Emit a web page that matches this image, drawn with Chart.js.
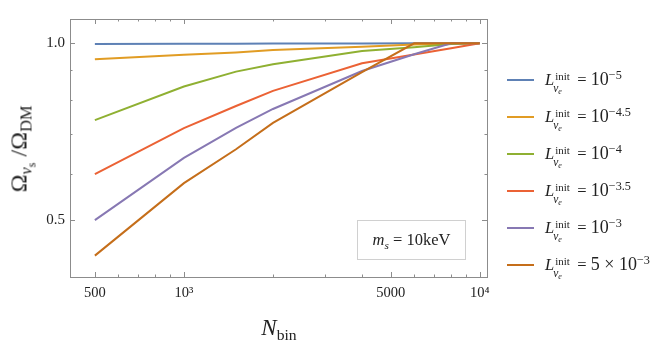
<!DOCTYPE html>
<html>
<head>
<meta charset="utf-8">
<script src="https://cdn.jsdelivr.net/npm/chart.js@4/dist/chart.umd.min.js"></script>
<style>
  html, body { margin: 0; padding: 0; background: #fff; }
  #wrap { position: relative; width: 664px; height: 349px; overflow: hidden; font-family: 'Liberation Serif', serif; color: #222; }
  canvas { position: absolute; left: 0; top: 0; }
  .sub { font-size: 0.68em; position: relative; top: 0.32em; }
  .sup { font-size: 0.68em; position: relative; top: -0.5em; }
  #ytitle { position: absolute; left: 19px; top: 149px; transform: translate(-50%, -50%) rotate(-90deg); font-size: 24px; white-space: nowrap; }
  #xtitle { position: absolute; left: 279px; top: 328px; transform: translate(-50%, -50%); font-size: 23px; white-space: nowrap; }
  #mbox { position: absolute; left: 357px; top: 220px; width: 109px; height: 40px; border: 1px solid #d0d0d0; box-sizing: border-box; display: flex; align-items: center; justify-content: center; font-size: 16.5px; white-space: nowrap; }
  .le { position: absolute; left: 507px; height: 0; }
  .sw { position: absolute; left: 0; top: -1px; width: 27px; height: 2px; }
  .lt { position: absolute; left: 38px; top: -11px; font-size: 16.5px; line-height: 20px; white-space: nowrap; }
  .lt .v { font-size: 18px; }
  .ss { display: inline-block; position: relative; width: 19px; height: 10px; }
  .ss .u { position: absolute; left: 1px; top: -9px; font-size: 11px; }
  .ss .d { position: absolute; left: -1px; top: 3px; font-size: 11.5px; font-style: italic; }
  .ss .d .e { font-size: 8px; position: relative; top: 2px; }
</style>
</head>
<body>
<div id="wrap">
  <canvas id="c" width="664" height="349"></canvas>
  <div id="ytitle">Ω<span class="sub"><i>ν</i><span class="sub" style="font-size:0.75em">s</span></span> /Ω<span class="sub">DM</span></div>
  <div id="xtitle"><i>N</i><span class="sub">bin</span></div>
  <div id="mbox"><span><i>m</i><span class="sub" style="font-style:italic">s</span> = 10keV</span></div>
  <div id="legend"></div>
</div>
<script>
// ---- data ----
const nBins = [500, 1000, 1500, 2000, 4000, 6000, 8000, 10000];
const omegaL5   = [0.997, 0.998, 0.998, 0.999, 0.999, 1.000, 1.000, 1.000];
const omegaL45  = [0.939, 0.956, 0.965, 0.974, 0.987, 0.995, 0.999, 1.000];
const omegaL4   = [0.740, 0.844, 0.895, 0.921, 0.970, 0.985, 0.997, 1.000];
const omegaL35  = [0.599, 0.717, 0.782, 0.830, 0.925, 0.957, 0.981, 1.000];
const omegaL3   = [0.500, 0.638, 0.718, 0.773, 0.897, 0.958, 1.000, 1.000];
const omegaL5e3 = [0.435, 0.578, 0.660, 0.732, 0.893, 1.000, 1.000, 1.000];
const seriesExp = ['−5', '−4.5', '−4', '−3.5', '−3', null];
const seriesLabels = ['L=1e-5', 'L=1e-4.5', 'L=1e-4', 'L=1e-3.5', 'L=1e-3', 'L=5e-3'];
const seriesColors = ['#5E81B5', '#E19C24', '#8FB032', '#EB6235', '#8778B3', '#C56E1A'];
const xTickValues = [500, 600, 700, 800, 900, 1000, 2000, 3000, 4000, 5000, 6000, 7000, 8000, 9000, 10000];
const xTickLabels = {500: '500', 1000: '10³', 5000: '5000', 10000: '10⁴'};
const yTickValues = [0.5, 0.6, 0.7, 0.8, 0.9, 1.0];
const yTickLabels = {0.5: '0.5', 1: '1.0'};

const allSeries = [omegaL5, omegaL45, omegaL4, omegaL35, omegaL3, omegaL5e3];

const datasets = allSeries.map((ys, i) => ({
  label: seriesLabels[i],
  data: nBins.map((x, j) => ({x: x, y: ys[j]})),
  borderColor: seriesColors[i],
  backgroundColor: seriesColors[i],
  borderWidth: 2,
  pointRadius: 0,
  tension: 0,
  fill: false,
  order: allSeries.length - i
}));

const frameTicks = {
  id: 'frameTicks',
  beforeDatasetsDraw(chart) {
    const {ctx, chartArea: a, scales} = chart;
    const xs = scales.x, ys = scales.y;
    ctx.save();
    ctx.strokeStyle = '#8c8c8c';
    ctx.lineWidth = 1;
    ctx.strokeRect(Math.round(a.left) + 0.5, Math.round(a.top) + 0.5, Math.round(a.right - a.left), Math.round(a.bottom - a.top));
    ctx.beginPath();
    xTickValues.forEach(v => {
      const px = Math.round(xs.getPixelForValue(v)) + 0.5;
      const len = xTickLabels[v] ? 5 : 2.5;
      ctx.moveTo(px, a.bottom); ctx.lineTo(px, a.bottom - len);
      ctx.moveTo(px, a.top); ctx.lineTo(px, a.top + len);
    });
    yTickValues.forEach(v => {
      const py = Math.round(ys.getPixelForValue(v)) + 0.5;
      const len = yTickLabels[v] ? 5 : 2.5;
      ctx.moveTo(a.left, py); ctx.lineTo(a.left + len, py);
      ctx.moveTo(a.right, py); ctx.lineTo(a.right - len, py);
    });
    ctx.stroke();
    ctx.restore();
  }
};

new Chart(document.getElementById('c'), {
  type: 'line',
  data: { datasets },
  options: {
    responsive: false,
    animation: false,
    devicePixelRatio: 1,
    layout: { padding: { left: 0, right: 177, top: 19, bottom: 0 } },
    plugins: { legend: { display: false }, tooltip: { enabled: false } },
    scales: {
      x: {
        type: 'logarithmic',
        min: 412, max: 10580,
        grid: { display: false, drawTicks: false },
        border: { display: false },
        afterBuildTicks: s => { s.ticks = xTickValues.map(v => ({value: v})); },
        afterFit: s => { s.height = 72; },
        ticks: {
          autoSkip: false, maxRotation: 0, minRotation: 0, padding: 7,
          color: '#222', font: { family: 'Liberation Serif', size: 14.5 },
          callback: v => xTickLabels[v] || ''
        }
      },
      y: {
        type: 'logarithmic',
        min: 0.4, max: 1.1,
        grid: { display: false, drawTicks: false },
        border: { display: false },
        afterBuildTicks: s => { s.ticks = yTickValues.map(v => ({value: v})); },
        afterFit: s => { s.width = 70; },
        ticks: {
          autoSkip: false, padding: 5,
          color: '#222', font: { family: 'Liberation Serif', size: 15 },
          callback: v => yTickLabels[Math.round(v * 10) / 10] || ''
        }
      }
    }
  },
  plugins: [frameTicks]
});

// HTML legend with math-style labels
const legendTops = [80, 117, 154, 191, 228, 265];
const leg = document.getElementById('legend');
seriesColors.forEach((c, i) => {
  const d = document.createElement('div');
  d.className = 'le';
  d.style.top = legendTops[i] + 'px';
  const val = seriesExp[i] ? '10<span class="sup">' + seriesExp[i] + '</span>' : '5 × 10<span class="sup">−3</span>';
  d.innerHTML = '<span class="sw" style="background:' + c + '"></span>' +
    '<span class="lt"><i>L</i><span class="ss"><span class="u">init</span><span class="d">ν<span class="e">e</span></span></span> = <span class="v">' + val + '</span></span>';
  leg.appendChild(d);
});
</script>
</body>
</html>
